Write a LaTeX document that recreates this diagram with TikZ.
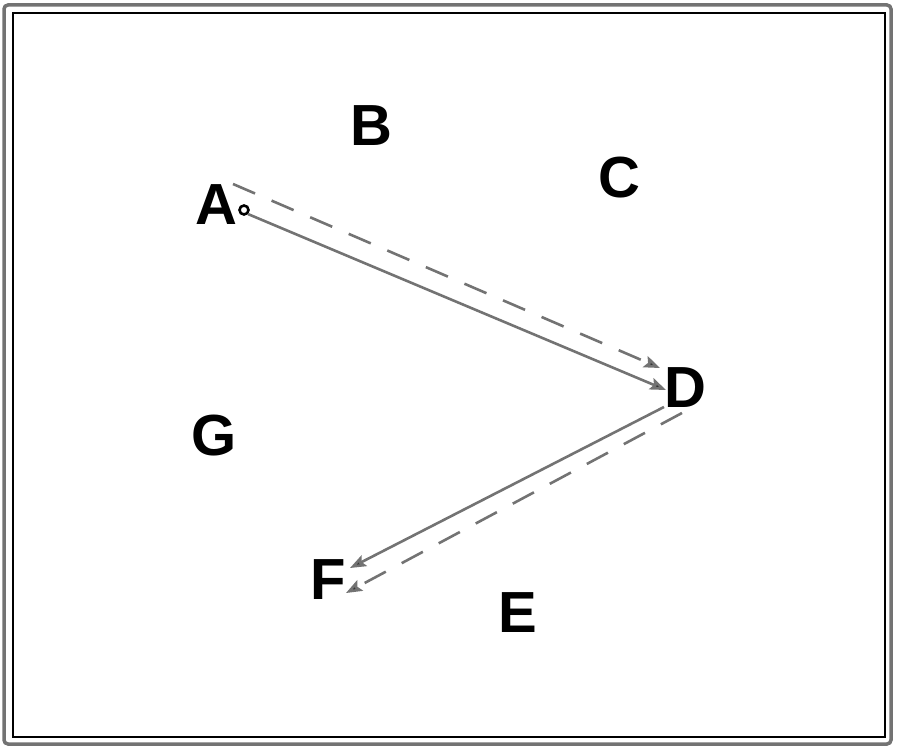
\documentclass[tikz,border=0pt]{standalone}
\usepackage{fontspec}
\setmainfont{Liberation Sans}
\usetikzlibrary{arrows.meta}
\begin{document}
\begin{tikzpicture}[x=1pt, y=-1pt,
        every node/.style = {font=\bfseries\fontsize{58}{60}\selectfont, inner sep=0pt},
        link/.style = {draw=black!55, line width=2.6pt,
            -{Stealth[length=16pt, width=12pt, inset=3pt, fill=black!80]}},
        dashlink/.style = {link, dash pattern=on 24pt off 18pt}]
    \useasboundingbox (0,0) rectangle (900,752);
    \draw[black!55, line width=3.5pt, rounded corners=4pt] (4,5) rectangle (891,744);
    \draw[line width=1.2pt] (13,13) rectangle (885,737);
    \node (A) at (216,205) {A};
    \node (B) at (371,126) {B};
    \node (C) at (619,178) {C};
    \node (D) at (685,388) {D};
    \node (E) at (518,613) {E};
    \node (F) at (328,580) {F};
    \node (G) at (214,436) {G};
    \node[draw, circle, line width=2.6pt, minimum size=9pt] (dot) at (244,210) {};
    % end points of the links
    \coordinate (ad) at (666,390);
    \coordinate (ads) at (233,184);
    \coordinate (ade) at (660,368);
    \coordinate (df) at (664,407);
    \coordinate (dfe) at (350,568);
    \coordinate (dfs) at (682,413);
    \coordinate (dfd) at (346,593);
    \draw[link] (dot.south east) -- (ad);
    \draw[dashlink] (ads) -- (ade);
    \draw[link] (df) -- (dfe);
    \draw[dashlink] (dfs) -- (dfd);
\end{tikzpicture}
\end{document}
